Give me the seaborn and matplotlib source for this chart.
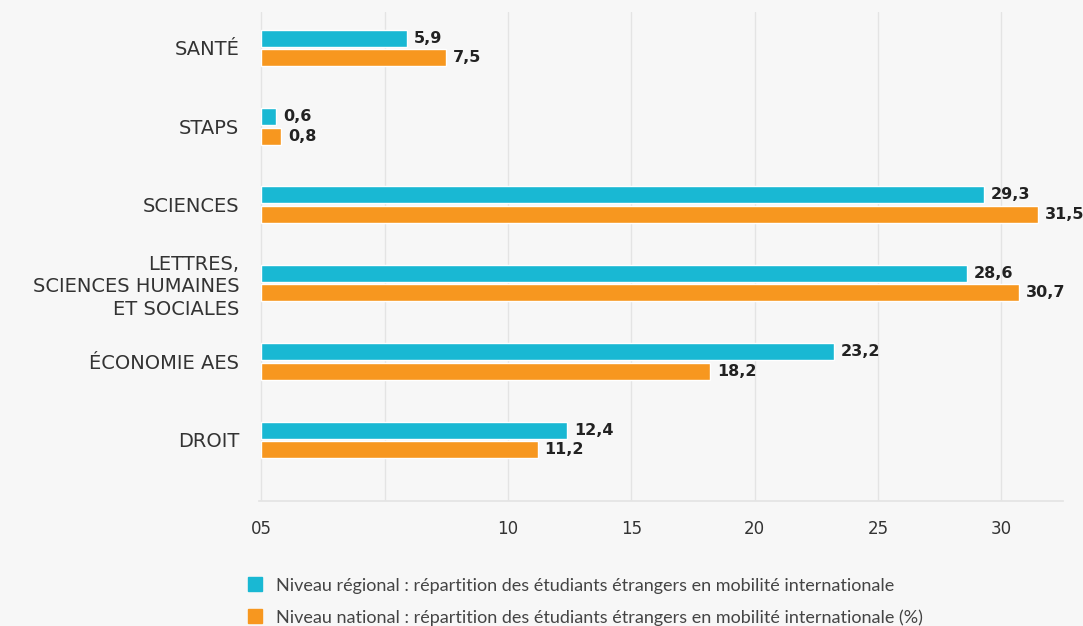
import pandas as pd
import seaborn as sns
import matplotlib.pyplot as plt
from matplotlib.lines import Line2D

# --- Données ---
categories = ["SANTÉ", "STAPS", "SCIENCES",
              "LETTRES,\nSCIENCES HUMAINES\nET SOCIALES", "ÉCONOMIE AES", "DROIT"]
regional = [5.9, 0.6, 29.3, 28.6, 23.2, 12.4]
national = [7.5, 0.8, 31.5, 30.7, 18.2, 11.2]
series_names = [
    "Niveau régional : répartition des étudiants étrangers en mobilité internationale",
    "Niveau national : répartition des étudiants étrangers en mobilité internationale (%)",
]
x_ticks = [0, 5, 10, 15, 20, 25, 30]
x_ticklabels = ["05", "", "10", "15", "20", "25", "30"]

colors = ["#19b8d3", "#f7971f"]
bg = "#f7f7f7"

df = pd.DataFrame({
    "categorie": categories * 2,
    "valeur": regional + national,
    "serie": [series_names[0]] * len(categories) + [series_names[1]] * len(categories),
})

sns.set_theme(style="white")
plt.rcParams["font.family"] = ["Lato", "DejaVu Sans"]

fig = plt.figure(figsize=(10.83, 6.26), dpi=100, facecolor=bg)
ax = fig.add_axes([0.239, 0.1997, 0.7425, 0.7813])
ax.set_facecolor(bg)

sns.barplot(data=df, y="categorie", x="valeur", hue="serie", order=categories,
            hue_order=series_names, palette=colors, orient="h",
            width=0.5, gap=0.13, legend=False, ax=ax, saturation=1)

# étiquettes de valeurs (virgule décimale)
for cont in ax.containers:
    labels = [f"{v:.1f}".replace(".", ",") for v in cont.datavalues]
    ax.bar_label(cont, labels=labels, padding=5, fontsize=11.5, fontweight=600,
                 color="#222222", family=["DejaVu Sans"])

ax.set_xlim(-0.1, 32.5)
ax.set_ylim(5.78, -0.46)
ax.set_xticks(x_ticks)
ax.set_xticklabels(x_ticklabels, fontsize=12, color="#333333", family=["DejaVu Sans"])
ax.tick_params(axis="x", length=0, pad=14)
ax.tick_params(axis="y", length=0, pad=14)
for lab in ax.get_yticklabels():
    lab.set_family(["DejaVu Sans"])
    lab.set_fontsize(14)
    lab.set_color("#333333")
    lab.set_horizontalalignment("right")
    lab.set_multialignment("right")
    lab.set_linespacing(1.25)
ax.grid(axis="x", color="#e4e4e4", linewidth=1)
ax.set_axisbelow(True)
ax.set_xlabel("")
ax.set_ylabel("")
for side in ["top", "right", "left"]:
    ax.spines[side].set_visible(False)
ax.spines["bottom"].set_color("#e4e4e4")

# légende en bas
handles = [Line2D([0], [0], marker="s", linestyle="", markersize=10,
                  markerfacecolor=c, markeredgecolor=c) for c in colors]
fig.legend(handles, series_names, loc="upper left", bbox_to_anchor=(0.225, 0.077),
           frameon=False, fontsize=13, labelspacing=0.85, handletextpad=0.6,
           handlelength=1.2, labelcolor="#444444", borderaxespad=0, borderpad=0)

fig.savefig("out.png", dpi=100, facecolor=bg)
